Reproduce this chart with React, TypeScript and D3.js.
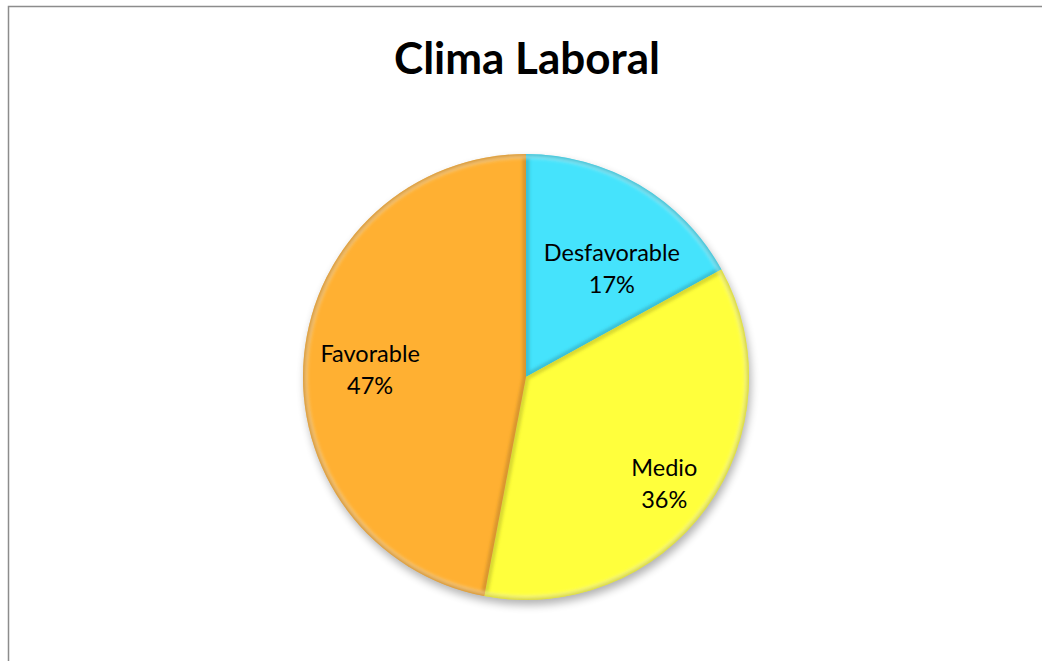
import React from "react";
import * as d3 from "d3";

const categories = ["Desfavorable", "Medio", "Favorable"];
const values = [17, 36, 47];
const colors = ["#45E3FC", "#FFFF3C", "#FFB032"];
const title = "Clima Laboral";

// label placement (layout, not data): radius + angle offset in degrees
const labelLayout: Record<string, { r: number; dAngle: number }> = {
  Desfavorable: { r: 138, dAngle: 7.9 },
  Medio: { r: 175, dAngle: 1.8 },
  Favorable: { r: 156, dAngle: -2.8 },
};

const FONT = "Lato, 'Open Sans', sans-serif";

export default function App() {
  const W = 1042;
  const H = 661;
  const cx = 526;
  const cy = 377;
  const R = 223;

  const pie = d3.pie<number>().sort(null).value((d) => d);
  const arcs = pie(values);
  const arc = d3.arc<d3.PieArcDatum<number>>().innerRadius(0).outerRadius(R);
  const total = d3.sum(values);

  return (
    <svg
      width={W}
      height={H}
      style={{ position: "absolute", left: 0, top: 0, background: "#fff" }}
    >
      <defs>
        <filter id="shadow" x="-20%" y="-20%" width="140%" height="140%">
          <feGaussianBlur in="SourceAlpha" stdDeviation="4" />
          <feOffset dx="2" dy="5" result="off" />
          <feComponentTransfer>
            <feFuncA type="linear" slope="0.3" />
          </feComponentTransfer>
        </filter>
        <filter id="soft" x="-10%" y="-10%" width="120%" height="120%">
          <feGaussianBlur stdDeviation="1.8" />
        </filter>
        {arcs.map((a, i) => (
          <clipPath key={i} id={`c${i}`}>
            <path d={arc(a) || ""} />
          </clipPath>
        ))}
      </defs>
      <rect x={8.5} y={6.5} width={1100} height={700} fill="none" stroke="#8c8c8c" strokeWidth={1.5} />
      <text
        x={527}
        y={74}
        textAnchor="middle"
        fontFamily={FONT}
        fontWeight="bold"
        fontSize={44}
        fill="#000"
      >
        {title}
      </text>
      <g transform={`translate(${cx},${cy})`}>
        <circle r={R} fill="#000" filter="url(#shadow)" />
        {arcs.map((a, i) => {
          const c = d3.color(colors[i])!;
          return (
            <g key={i}>
              <path d={arc(a) || ""} fill={colors[i]} />
              <g clipPath={`url(#c${i})`}>
                <path
                  d={arc(a) || ""}
                  fill="none"
                  stroke={c.darker(0.9).toString()}
                  strokeOpacity={0.55}
                  strokeWidth={7}
                  filter="url(#soft)"
                />
                <circle r={R - 3} fill="none" stroke="#fff" strokeOpacity={0.3} strokeWidth={4} filter="url(#soft)" />
              </g>
            </g>
          );
        })}
      </g>
      <g transform={`translate(${cx},${cy})`}>
        {arcs.map((a, i) => {
          const lay = labelLayout[categories[i]];
          const mid = (a.startAngle + a.endAngle) / 2 + (lay.dAngle * Math.PI) / 180;
          const x = Math.sin(mid) * lay.r;
          const y = -Math.cos(mid) * lay.r;
          return (
            <text
              key={i}
              x={x}
              y={y}
              textAnchor="middle"
              fontFamily={FONT}
              fontSize={23.5}
              fill="#000"
            >
              <tspan x={x} dy="-0.35em">{categories[i]}</tspan>
              <tspan x={x} dy="1.38em">{`${Math.round((values[i] / total) * 100)}%`}</tspan>
            </text>
          );
        })}
      </g>
    </svg>
  );
}
